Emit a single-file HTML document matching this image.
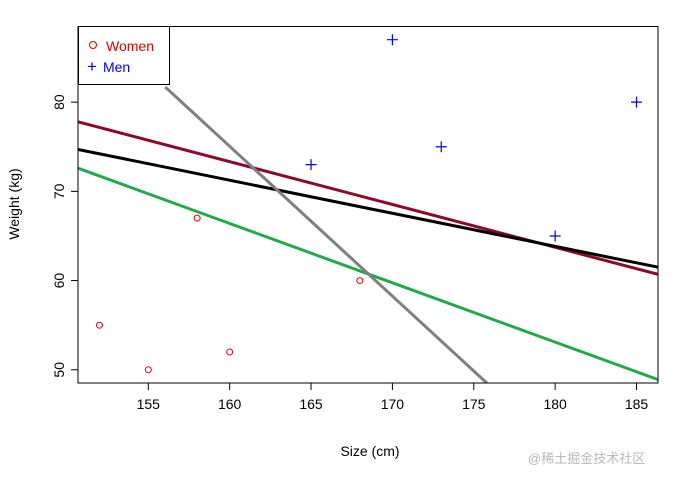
<!DOCTYPE html>
<html><head><meta charset="utf-8"><style>
body{margin:0;background:#fff;}
svg{display:block;font-family:"Liberation Sans","Noto Sans CJK SC",sans-serif;}
</style></head><body>
<svg id="c" width="699" height="481"></svg>
<script>
const womenX=[152,155,158,160,168];
const womenY=[55,50,67,52,60];
const menX=[165,170,173,180,185];
const menY=[73,87,75,65,80];
const lineNames=['maroon-fit','black-fit','green-fit','gray-fit'];
const lineColors=['#8b0a2a','#000000','#22aa4a','#808080'];
const lineX0=[150.68,150.68,150.68,156.04];
const lineY0=[77.8,74.7,72.6,81.7];
const lineX1=[186.32,186.32,186.32,175.8];
const lineY1=[60.7,61.5,48.9,48.52];
const xTicks=[155,160,165,170,175,180,185];
const yTicks=[50,60,70,80];

const L=78,R=658,T=26.5,B=383;
const xMin=150.68,xMax=186.32,yMin=48.52,yMax=88.48;
const sx=v=>L+(v-xMin)/(xMax-xMin)*(R-L);
const sy=v=>B-(v-yMin)/(yMax-yMin)*(B-T);
const svg=document.getElementById('c');
const NS='http://www.w3.org/2000/svg';
function mk(tag,attrs,parent){const e=document.createElementNS(NS,tag);for(const k in attrs)e.setAttribute(k,attrs[k]);(parent||svg).appendChild(e);return e;}

const defs=mk('defs',{});
const cp=mk('clipPath',{id:'clip'},defs);
mk('rect',{x:L,y:T,width:R-L,height:B-T},cp);

// lines
const lg=mk('g',{'clip-path':'url(#clip)'});


for(let i=0;i<lineNames.length;i++){
  const l=mk('line',{x1:sx(lineX0[i]),y1:sy(lineY0[i]),x2:sx(lineX1[i]),y2:sy(lineY1[i]),stroke:lineColors[i],'stroke-width':3},lg);
  
  
}
// points
for(let i=0;i<womenX.length;i++){
  const c=mk('circle',{cx:sx(womenX[i]),cy:sy(womenY[i]),r:3,fill:'none',stroke:'#e00000','stroke-width':1});
  
  
}
for(let i=0;i<menX.length;i++){
  const x=sx(menX[i]),y=sy(menY[i]);
  const p=mk('path',{d:`M${x-5.5},${y}H${x+5.5}M${x},${y-5.5}V${y+5.5}`,stroke:'#0000ee','stroke-width':1.2});
  
  
}
// frame
const fr=mk('rect',{x:L,y:T,width:R-L,height:B-T,fill:'none',stroke:'#000','stroke-width':1});


// x axis
const xa=mk('g',{});


mk('line',{x1:sx(xTicks[0]),x2:sx(xTicks[xTicks.length-1]),y1:B,y2:B,stroke:'#000'},xa);
for(const t of xTicks){
  mk('line',{x1:sx(t),x2:sx(t),y1:B,y2:B+7,stroke:'#000'},xa);
  const tx=mk('text',{x:sx(t),y:B+26,'text-anchor':'middle','font-size':14},xa);
  tx.textContent=t;
  
  
}
// y axis
const ya=mk('g',{});


mk('line',{x1:L,x2:L,y1:sy(yTicks[0]),y2:sy(yTicks[yTicks.length-1]),stroke:'#000'},ya);
for(const t of yTicks){
  mk('line',{x1:L-7,x2:L,y1:sy(t),y2:sy(t),stroke:'#000'},ya);
  const tx=mk('text',{x:0,y:0,'text-anchor':'middle','font-size':14,transform:`translate(${L-14},${sy(t)}) rotate(-90)`},ya);
  tx.textContent=t;
  
  
}
</script>
<svg width="0" height="0"></svg>
<div style="position:absolute;left:0;top:0;width:699px;height:481px;pointer-events:none;font-family:'Liberation Sans','Noto Sans CJK SC',sans-serif;">
  <div style="position:absolute;left:300px;top:443px;width:140px;text-align:center;font-size:14px;">Size (cm)</div>
  <div style="position:absolute;left:-36px;top:196px;width:100px;text-align:center;font-size:14px;transform:rotate(-90deg);">Weight (kg)</div>
  <div style="position:absolute;left:78px;top:26px;width:90px;height:57px;border:1px solid #000;background:#fff;box-sizing:content-box;">
    <div style="position:absolute;left:10px;top:11px;font-size:14px;color:#e00000;white-space:nowrap;"><span style="display:inline-block;width:6px;height:6px;border:1px solid #e00000;border-radius:50%;margin-right:9px;vertical-align:2px;"></span>Women</div>
    <div style="position:absolute;left:8px;top:30px;font-size:14px;color:#0000ee;white-space:nowrap;"><span style="font-size:17px;margin-right:6px;">+</span>Men</div>
  </div>
  <div style="position:absolute;left:528px;top:448px;font-size:13px;color:#b8b8b8;white-space:nowrap;">@稀土掘金技术社区</div>
</div>
</body></html>
